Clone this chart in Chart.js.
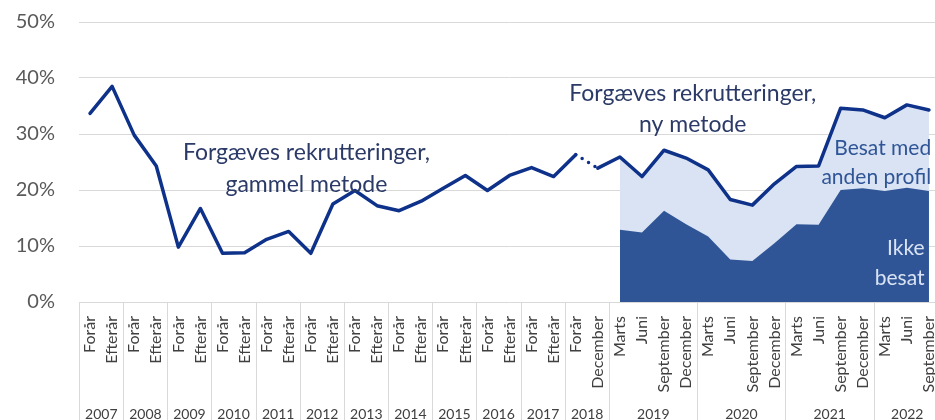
<!DOCTYPE html>
<html>
<head>
<meta charset="utf-8">
<script src="https://cdn.jsdelivr.net/npm/chart.js@4.4.0/dist/chart.umd.min.js"></script>
<style>
  html, body { margin: 0; padding: 0; background: #fff; overflow: hidden; }
  /* plot runs a few px past the right edge, like the original */
  #wrap { width: 940px; height: 420px; }
</style>
</head>
<body>
<div id="wrap"><canvas id="chart"></canvas></div>
<script>
// period labels on the x axis
const periods = [
  'Forår', 'Efterår', 'Forår', 'Efterår', 'Forår', 'Efterår', 'Forår', 'Efterår',
  'Forår', 'Efterår', 'Forår', 'Efterår', 'Forår', 'Efterår', 'Forår', 'Efterår',
  'Forår', 'Efterår', 'Forår', 'Efterår', 'Forår', 'Efterår',
  'Forår', 'December',
  'Marts', 'Juni', 'September', 'December',
  'Marts', 'Juni', 'September', 'December',
  'Marts', 'Juni', 'September', 'December',
  'Marts', 'Juni', 'September'
];

// year groups under the period labels
const years = ['2007', '2008', '2009', '2010', '2011', '2012', '2013', '2014', '2015',
  '2016', '2017', '2018', '2019', '2020', '2021', '2022'];
const yearSpans = [2, 2, 2, 2, 2, 2, 2, 2, 2, 2, 2, 2, 4, 4, 4, 3];

// forgæves rekrutteringer, pct. (old method up to Forår 2018, new method after)
const total = [
  33.7, 38.5, 29.8, 24.3, 9.8, 16.7, 8.7, 8.8, 11.2, 12.6, 8.7, 17.5,
  19.9, 17.2, 16.3, 18.0, 20.3, 22.6, 19.9, 22.6, 24.0, 22.4, 26.3, 23.9,
  25.9, 22.4, 27.1, 25.7, 23.6, 18.3, 17.3, 21.1, 24.2, 24.3, 34.6, 34.3,
  32.9, 35.2, 34.3
];

// new method split: ikke besat (rest is besat med anden profil)
const ikkeBesat = [
  null, null, null, null, null, null, null, null, null, null, null, null,
  null, null, null, null, null, null, null, null, null, null, null, null,
  12.9, 12.4, 16.3, 13.9, 11.7, 7.6, 7.3, 10.5, 13.9, 13.8, 20.0, 20.3,
  19.8, 20.4, 19.8
];

// the stacked area only exists for the new method
const firstNew = 24;
const nyMetode = total.map((v, i) => (i >= firstNew ? v : null));

const yTicks = [0, 10, 20, 30, 40, 50];

const fontFamily = 'Lato, "Open Sans", sans-serif';

// text labels inside the plot (anchored on category index / value)
const notes = [
  { lines: ['Forgæves rekrutteringer,', 'gammel metode'], x: 9.8, y: [26.6, 21.0], align: 'center', color: '#2b3a67', size: 23 },
  { lines: ['Forgæves rekrutteringer,', 'ny metode'], x: 27.3, y: [37.3, 31.6], align: 'center', color: '#2b3a67', size: 23 },
  { lines: ['Besat med', 'anden profil'], x: 38.1, y: [27.5, 22.3], align: 'right', color: '#2f5597', size: 21 },
  { lines: ['Ikke', 'besat'], x: 37.8, y: [9.6, 4.3], align: 'right', color: '#dae3f3', size: 21 }
];

// year groups + separators below the axis
const yearGroups = {
  id: 'yearGroups',
  afterDraw(chart) {
    const ctx = chart.ctx;
    const x = chart.scales.x;
    const area = chart.chartArea;
    const half = (x.getPixelForValue(1) - x.getPixelForValue(0)) / 2;
    let start = 0;
    ctx.save();
    ctx.strokeStyle = '#d9d9d9';
    ctx.lineWidth = 1;
    ctx.fillStyle = '#404040';
    ctx.font = '14px ' + fontFamily;
    ctx.textAlign = 'center';
    ctx.textBaseline = 'middle';
    years.forEach((yr, i) => {
      const end = start + yearSpans[i] - 1;
      const x0 = Math.round(x.getPixelForValue(start) - half) + 0.5;
      const x1 = x.getPixelForValue(end) + half;
      ctx.beginPath();
      ctx.moveTo(x0, area.bottom);
      ctx.lineTo(x0, chart.height);
      ctx.stroke();
      ctx.fillText(yr, (x0 + x1) / 2, chart.height - 6);
      start = end + 1;
    });
    ctx.restore();
  }
};

const textNotes = {
  id: 'textNotes',
  afterDatasetsDraw(chart) {
    const ctx = chart.ctx;
    const xs = chart.scales.x;
    const ys = chart.scales.y;
    ctx.save();
    ctx.textBaseline = 'middle';
    notes.forEach(n => {
      ctx.font = n.size + 'px ' + fontFamily;
      ctx.fillStyle = n.color;
      ctx.textAlign = n.align;
      n.lines.forEach((t, k) => {
        ctx.fillText(t, xs.getPixelForValue(n.x), ys.getPixelForValue(n.y[k]));
      });
    });
    ctx.restore();
  }
};

new Chart(document.getElementById('chart'), {
  type: 'line',
  data: {
    labels: periods,
    datasets: [
      {
        label: 'Forgæves rekrutteringer',
        data: total,
        borderColor: '#0e318a',
        borderWidth: 3.5,
        borderCapStyle: 'round',
        borderJoinStyle: 'round',
        pointRadius: 0,
        tension: 0,
        fill: false,
        order: 0,
        segment: {
          // break between old and new method drawn dotted
          borderDash: ctx => (ctx.p0DataIndex === firstNew - 2 ? [0, 7.5] : undefined)
        }
      },
      {
        label: 'Ikke besat',
        data: ikkeBesat,
        borderWidth: 0,
        pointRadius: 0,
        backgroundColor: '#2f5597',
        fill: 'origin',
        order: 1
      },
      {
        label: 'Besat med anden profil',
        data: nyMetode,
        borderWidth: 0,
        pointRadius: 0,
        backgroundColor: '#dae3f3',
        fill: 'origin',
        order: 2
      }
    ]
  },
  options: {
    responsive: true,
    maintainAspectRatio: false,
    animation: false,
    layout: { padding: { top: 22, right: 0, left: 0, bottom: 0 } },
    plugins: {
      legend: { display: false },
      tooltip: { enabled: false }
    },
    scales: {
      x: {
        type: 'category',
        offset: true,
        grid: { display: false, drawTicks: false },
        border: { display: false },
        ticks: {
          autoSkip: false,
          maxRotation: 90,
          minRotation: 90,
          padding: 14,
          color: '#404040',
          font: { family: fontFamily, size: 16 }
        },
        afterFit(scale) {
          scale.height = 118;
          scale.paddingLeft = 0;
          scale.paddingRight = 0;
        }
      },
      y: {
        min: 0,
        max: 50,
        afterBuildTicks(scale) { scale.ticks = yTicks.map(v => ({ value: v })); },
        grid: { color: '#d9d9d9', drawTicks: false },
        border: { display: false },
        ticks: {
          padding: 24,
          color: '#595959',
          font: { family: fontFamily, size: 20 },
          callback: v => v + '%'
        },
        afterFit(scale) {
          scale.width = 79;
          scale.paddingTop = 0;
          scale.paddingBottom = 0;
        }
      }
    }
  },
  plugins: [yearGroups, textNotes]
});
</script>
</body>
</html>
